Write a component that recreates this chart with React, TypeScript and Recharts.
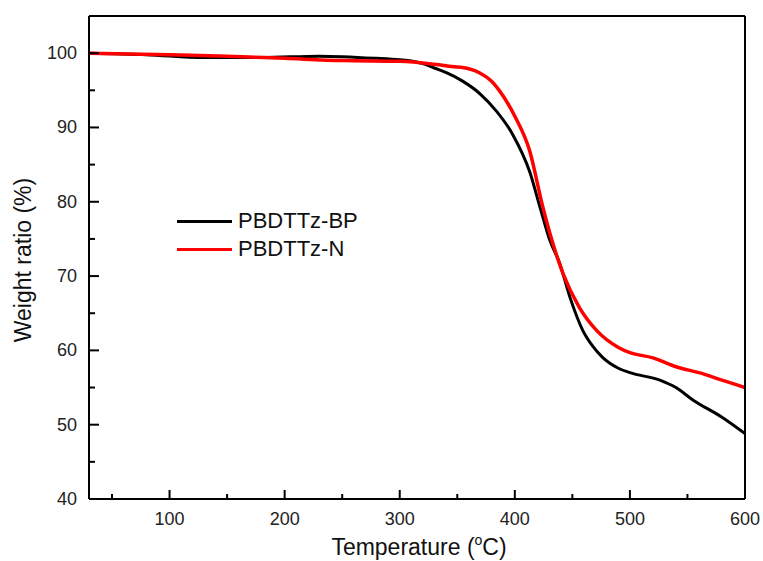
import { LineChart, Line, XAxis, YAxis } from "recharts"

// PBDTTz-BP (black)
const bpTemp = [30, 80, 130, 180, 230, 280, 300, 310, 320, 330, 340, 355, 370, 384, 398, 413, 422, 430, 439, 448, 459, 468, 476, 490, 500, 526, 540, 555, 580, 600]
const bpWeight = [100, 99.8, 99.4, 99.4, 99.6, 99.3, 99.1, 98.95, 98.6, 98.0, 97.4, 96.2, 94.5, 92.2, 89.1, 84, 79.2, 75, 71.7, 67.1, 62.7, 60.5, 59.1, 57.6, 57.0, 56.0, 55, 53.3, 51, 48.8]

// PBDTTz-N (red)
const nTemp = [30, 100, 150, 200, 250, 300, 330, 345, 360, 370, 380, 390, 400, 413, 424, 430, 442, 456, 471, 490, 500, 520, 540, 560, 580, 600]
const nWeight = [100, 99.8, 99.6, 99.3, 99.0, 98.9, 98.5, 98.2, 97.9, 97.3, 96.2, 94.2, 91.5, 86.8, 79.5, 76, 70.3, 65.8, 62.7, 60.4, 59.7, 59, 57.8, 57, 56, 55]

const xTicks = [50, 100, 150, 200, 250, 300, 350, 400, 450, 500, 550, 600]
const yTicks = [40, 45, 50, 55, 60, 65, 70, 75, 80, 85, 90, 95, 100]

const seriesNames = ["PBDTTz-BP", "PBDTTz-N"]
const seriesColors = ["#000000", "#ff0000"]

const bpData = bpTemp.map((t, i) => ({ t, w: bpWeight[i] }))
const nData = nTemp.map((t, i) => ({ t, w: nWeight[i] }))

const font = "'Liberation Sans', Arial, sans-serif"

function XTick({ x, y, payload }: any) {
  const major = payload.value % 100 === 0
  return (
    <g>
      <line x1={x} y1={y} x2={x} y2={y - (major ? 9 : 5)} stroke="#000" strokeWidth={2} />
      {major && (
        <text x={x} y={y + 26} textAnchor="middle" fontSize={18} fontFamily={font} fill="#222">
          {payload.value}
        </text>
      )}
    </g>
  )
}

function YTick({ x, y, payload }: any) {
  const major = payload.value % 10 === 0
  return (
    <g>
      <line x1={x} y1={y} x2={x + (major ? 10 : 6)} y2={y} stroke="#000" strokeWidth={2} />
      {major && (
        <text x={x - 12} y={y + 6} textAnchor="end" fontSize={18} fontFamily={font} fill="#222">
          {payload.value}
        </text>
      )}
    </g>
  )
}

function LegendBox() {
  return (
    <div
      style={{
        position: "absolute",
        left: 177,
        top: 207,
        fontFamily: font,
        fontSize: 22,
        color: "#111",
        lineHeight: "28px"
      }}
    >
      {seriesNames.map((name, i) => (
        <div key={name} style={{ display: "flex", alignItems: "center" }}>
          <span style={{ display: "inline-block", width: 55, height: 3, background: seriesColors[i], marginRight: 6 }} />
          <span>{name}</span>
        </div>
      ))}
    </div>
  )
}

export default function App() {
  return (
    <div style={{ position: "absolute", left: 0, top: 0, width: 763, height: 561, background: "#fff" }}>
      <LineChart width={763} height={561} margin={{ top: 15, right: 17, left: 0, bottom: 0 }}>
        <XAxis
          xAxisId="main"
          type="number"
          dataKey="t"
          domain={[30, 600]}
          ticks={xTicks}
          allowDataOverflow
          height={62}
          tickSize={0}
          tickMargin={0}
          tick={<XTick />}
          axisLine={{ stroke: "#000", strokeWidth: 2 }}
          label={{
            content: () => (
              <text x={419} y={555} textAnchor="middle" fontSize={23} fontFamily={font} fill="#111">
                Temperature (<tspan fontSize={14} dy={-10}>o</tspan>
                <tspan dy={10}>C)</tspan>
              </text>
            )
          }}
        />
        <XAxis
          xAxisId="top"
          orientation="top"
          type="number"
          domain={[30, 600]}
          height={1}
          tick={false}
          tickLine={false}
          axisLine={{ stroke: "#000", strokeWidth: 2 }}
        />
        <YAxis
          yAxisId="main"
          type="number"
          domain={[40, 105]}
          ticks={yTicks}
          allowDataOverflow
          width={89}
          tickSize={0}
          tickMargin={0}
          tick={<YTick />}
          axisLine={{ stroke: "#000", strokeWidth: 2 }}
          label={{
            content: () => (
              <text
                x={31}
                y={260}
                transform="rotate(-90 31 260)"
                textAnchor="middle"
                fontSize={23}
                fontFamily={font}
                fill="#111"
              >
                Weight ratio (%)
              </text>
            )
          }}
        />
        <YAxis
          yAxisId="right"
          orientation="right"
          type="number"
          domain={[40, 105]}
          width={1}
          tick={false}
          tickLine={false}
          axisLine={{ stroke: "#000", strokeWidth: 2 }}
        />
        <Line
          xAxisId="main"
          yAxisId="main"
          data={bpData}
          dataKey="w"
          name={seriesNames[0]}
          type="monotone"
          stroke={seriesColors[0]}
          strokeWidth={3}
          dot={false}
          isAnimationActive={false}
        />
        <Line
          xAxisId="main"
          yAxisId="main"
          data={nData}
          dataKey="w"
          name={seriesNames[1]}
          type="monotone"
          stroke={seriesColors[1]}
          strokeWidth={3.5}
          dot={false}
          isAnimationActive={false}
        />
      </LineChart>
      <LegendBox />
    </div>
  )
}
